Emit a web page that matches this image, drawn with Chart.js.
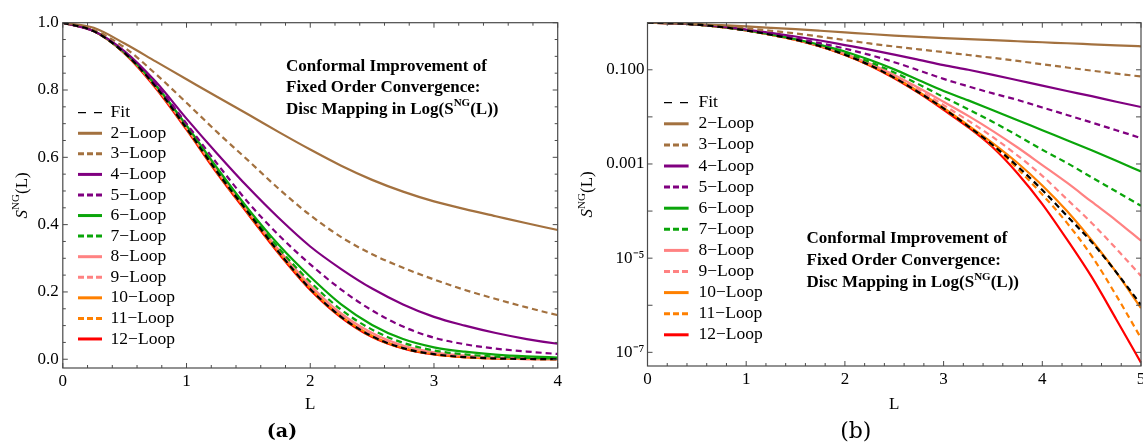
<!DOCTYPE html>
<html>
<head>
<meta charset="utf-8">
<script src="https://cdn.jsdelivr.net/npm/chart.js@4.4.1/dist/chart.umd.min.js"></script>
<style>
  html, body { margin: 0; padding: 0; background: #fff; width: 1143px; height: 448px; overflow: hidden; }
  canvas { position: absolute; top: 0; }
  #chartA { left: 0; }
  #chartB { left: 570px; }
</style>
</head>
<body>
<canvas id="chartA" width="570" height="448"></canvas>
<canvas id="chartB" width="590" height="448"></canvas>
<script>
// S^NG(L), every 0.25 in L
const L_VALUES = [0, 0.25, 0.5, 0.75, 1, 1.25, 1.5, 1.75, 2, 2.25, 2.5, 2.75, 3, 3.25, 3.5, 3.75, 4, 4.25, 4.5, 4.75, 5];

const FIT    = [1, 0.975, 0.91, 0.81, 0.686, 0.555, 0.435, 0.316, 0.209, 0.126, 0.068, 0.033, 0.0151, 0.0063, 0.0025, 8.9e-4, 2.8e-4, 7.9e-5, 2.2e-5, 5.0e-6, 1.02e-6];
const LOOP2  = [1, 0.985, 0.938, 0.885, 0.832, 0.779, 0.727, 0.674, 0.623, 0.575, 0.533, 0.498, 0.469, 0.446, 0.425, 0.404, 0.384, 0.366, 0.348, 0.331, 0.315];
const LOOP3  = [1, 0.978, 0.926, 0.848, 0.762, 0.674, 0.59, 0.505, 0.428, 0.363, 0.312, 0.272, 0.237, 0.206, 0.179, 0.154, 0.131, 0.112, 0.096, 0.083, 0.072];
const LOOP4  = [1, 0.975, 0.915, 0.825, 0.715, 0.61, 0.51, 0.418, 0.335, 0.268, 0.21, 0.163, 0.126, 0.1, 0.078, 0.06, 0.046, 0.0355, 0.0275, 0.021, 0.0162];
const LOOP5  = [1, 0.975, 0.912, 0.818, 0.70, 0.58, 0.465, 0.367, 0.282, 0.207, 0.145, 0.097, 0.064, 0.0445, 0.0315, 0.0229, 0.0158, 0.011, 0.0076, 0.0052, 0.00355];
const LOOP6  = [1, 0.975, 0.911, 0.815, 0.695, 0.567, 0.446, 0.338, 0.245, 0.163, 0.102, 0.06, 0.0355, 0.0224, 0.0138, 0.0085, 0.0052, 0.0032, 0.00195, 0.00117, 6.9e-4];
const LOOP7  = [1, 0.975, 0.91, 0.813, 0.692, 0.563, 0.443, 0.328, 0.23, 0.147, 0.088, 0.049, 0.0263, 0.0145, 0.0078, 0.004, 0.002, 0.00105, 5.2e-4, 2.6e-4, 1.29e-4];
const LOOP8  = [1, 0.975, 0.91, 0.812, 0.69, 0.56, 0.44, 0.323, 0.22, 0.136, 0.078, 0.041, 0.0209, 0.0105, 0.005, 0.00224, 9.5e-4, 4.0e-4, 1.58e-4, 6.3e-5, 2.34e-5];
const LOOP9  = [1, 0.975, 0.91, 0.81, 0.688, 0.558, 0.438, 0.32, 0.215, 0.131, 0.073, 0.037, 0.0178, 0.0083, 0.0037, 0.00151, 5.6e-4, 1.78e-4, 5.6e-5, 1.58e-5, 4.2e-6];
const LOOP10 = [1, 0.975, 0.91, 0.81, 0.687, 0.556, 0.436, 0.318, 0.212, 0.128, 0.07, 0.034, 0.0155, 0.0066, 0.00275, 0.00105, 3.5e-4, 1.0e-4, 2.4e-5, 5.0e-6, 8.7e-7];
const LOOP11 = [1, 0.975, 0.909, 0.808, 0.684, 0.553, 0.432, 0.314, 0.208, 0.125, 0.067, 0.0325, 0.0148, 0.0062, 0.0024, 7.9e-4, 2.24e-4, 5.6e-5, 1.12e-5, 1.6e-6, 2.0e-7];
const LOOP12 = [1, 0.975, 0.908, 0.806, 0.682, 0.551, 0.43, 0.312, 0.206, 0.124, 0.066, 0.032, 0.0141, 0.006, 0.00224, 6.3e-4, 1.41e-4, 2.5e-5, 4.0e-6, 5.0e-7, 6.0e-8];

const SERIES_NAMES = ['Fit', '2\u2212Loop', '3\u2212Loop', '4\u2212Loop', '5\u2212Loop', '6\u2212Loop', '7\u2212Loop',
                      '8\u2212Loop', '9\u2212Loop', '10\u2212Loop', '11\u2212Loop', '12\u2212Loop'];
const SERIES_VALUES = [FIT, LOOP2, LOOP3, LOOP4, LOOP5, LOOP6, LOOP7, LOOP8, LOOP9, LOOP10, LOOP11, LOOP12];

// tick labels
const Y_TICKS_A = [0, 0.2, 0.4, 0.6, 0.8, 1.0];
const Y_LABELS_A = ['0.0', '0.2', '0.4', '0.6', '0.8', '1.0'];
const Y_TICKS_B = [0.1, 0.001, 1e-5, 1e-7];
const Y_LABELS_B = ['0.100', '0.001', '10\u207B\u2075', '10\u207B\u2077'];
const NOTE_LINES = ['Conformal Improvement of', 'Fixed Order Convergence:', 'Disc Mapping in Log(S'];

const BROWN = '#a3713f', PURPLE = '#800080', GREEN = '#0aa50a', PINK = '#ff8282', ORANGE = '#ff8000', RED = '#ff0000';
const COLORS = ['#000000', BROWN, BROWN, PURPLE, PURPLE, GREEN, GREEN, PINK, PINK, ORANGE, ORANGE, RED];
const DASHED = [true, false, true, false, true, false, true, false, true, false, true, false];

const SERIF = "'Liberation Serif', 'Times New Roman', serif";

function makeDatasets(maxL) {
    return SERIES_NAMES.map((name, i) => ({
        label: name,
        data: L_VALUES.map((l, j) => ({x: l, y: SERIES_VALUES[i][j]})).filter(p => p.x <= maxL + 0.3),
        borderColor: COLORS[i],
        borderWidth: 2.2,
        borderDash: DASHED[i] ? [6, 4] : [],
        pointRadius: 0,
        fill: false,
        cubicInterpolationMode: 'monotone',
    }));
}

function drawParts(ctx, parts, x, y) {
    let cx = x;
    parts.forEach(p => {
        ctx.font = p.font;
        ctx.fillText(p.t, cx, y + (p.dy || 0));
        cx += ctx.measureText(p.t).width;
    });
    return cx - x;
}
function partsWidth(ctx, parts) {
    let w = 0;
    parts.forEach(p => { ctx.font = p.font; w += ctx.measureText(p.t).width; });
    return w;
}

const decor = {
    id: 'decor',
    afterDatasetsDraw(chart) {
        const ctx = chart.ctx, a = chart.chartArea, xs = chart.scales.x, ys = chart.scales.y;
        ctx.save();
        ctx.setLineDash([]);
        ctx.strokeStyle = '#4a4a4a';
        ctx.lineWidth = 1.2;
        ctx.strokeRect(a.left, a.top, a.right - a.left, a.bottom - a.top);
        ctx.beginPath();
        xs.ticks.forEach(t => {
            const p = xs.getPixelForValue(t.value), n = t.major ? 5 : 3;
            ctx.moveTo(p, a.bottom); ctx.lineTo(p, a.bottom - n);
            ctx.moveTo(p, a.top); ctx.lineTo(p, a.top + n);
        });
        ys.ticks.forEach(t => {
            const p = ys.getPixelForValue(t.value), n = t.major ? 5 : 3;
            if (p < a.top - 0.5 || p > a.bottom + 0.5) return;
            ctx.moveTo(a.left, p); ctx.lineTo(a.left + n, p);
            ctx.moveTo(a.right, p); ctx.lineTo(a.right - n, p);
        });
        ctx.lineWidth = 1;
        ctx.stroke();
        ctx.restore();
    },
    afterDraw(chart, args, o) {
        const ctx = chart.ctx, a = chart.chartArea;
        ctx.save();
        ctx.fillStyle = '#000';
        ctx.textBaseline = 'middle';

        // legend
        const lg = o.legend;
        chart.data.datasets.forEach((ds, i) => {
            const y = lg.y0 + i * lg.dy;
            ctx.strokeStyle = ds.borderColor;
            ctx.lineWidth = i === 0 ? 1.3 : 3;
            ctx.setLineDash(i === 0 ? [8, 8] : (DASHED[i] ? [6, 3] : []));
            ctx.beginPath();
            ctx.moveTo(lg.x0, y); ctx.lineTo(lg.x1, y);
            ctx.stroke();
            ctx.setLineDash([]);
            ctx.font = '17.5px ' + SERIF;
            ctx.textAlign = 'left';
            ctx.fillText(ds.label, lg.tx, y);
        });

        // note
        const nt = o.note;
        const bold = 'bold 17px ' + SERIF;
        NOTE_LINES.forEach((line, i) => {
            const y = nt.y0 + i * nt.dy;
            if (i < 2) {
                ctx.font = bold;
                ctx.fillText(line, nt.x, y);
            } else {
                drawParts(ctx, [
                    {t: line, font: bold},
                    {t: 'NG', font: 'bold 11px ' + SERIF, dy: -6},
                    {t: '(L))', font: bold},
                ], nt.x, y);
            }
        });

        // y title, rotated
        const yt = [
            {t: 'S', font: 'italic 17px ' + SERIF},
            {t: 'NG', font: '11px ' + SERIF, dy: -6},
            {t: '(L)', font: '17px ' + SERIF},
        ];
        ctx.save();
        ctx.translate(o.yTitleX, (a.top + a.bottom) / 2);
        ctx.rotate(-Math.PI / 2);
        drawParts(ctx, yt, -partsWidth(ctx, yt) / 2, 0);
        ctx.restore();

        // x title
        ctx.textAlign = 'center';
        ctx.font = '17px ' + SERIF;
        ctx.fillText('L', (a.left + a.right) / 2, 405);

        // panel label
        ctx.font = o.panelFont;
        ctx.fillText(o.panel, o.panelX, 432);
        ctx.restore();
    }
};

function xTicks(maxL) {
    return function (scale) {
        const t = [];
        for (let k = 0; k <= maxL * 5; k++) t.push({value: k / 5, major: k % 5 === 0});
        scale.ticks = t;
    };
}
function xLabel(v) {
    const r = Math.round(v * 1000) / 1000;
    return Number.isInteger(r) ? String(r) : '';
}

const tickFont = {family: SERIF, size: 17};

// (a) linear panel
new Chart(document.getElementById('chartA'), {
    type: 'line',
    data: {datasets: makeDatasets(4)},
    options: {
        responsive: false,
        devicePixelRatio: 1,
        animation: false,
        events: [],
        layout: {padding: {left: 0, top: 22.7, right: 12.3, bottom: 0}},
        scales: {
            x: {
                type: 'linear', min: 0, max: 4,
                afterBuildTicks: xTicks(4),
                afterFit: s => { s.height = 80; },
                ticks: {callback: xLabel, autoSkip: false, maxRotation: 0, padding: 3, color: '#000', font: tickFont},
                grid: {display: false, drawTicks: false},
                border: {display: false},
            },
            y: {
                type: 'linear', min: -0.026, max: 1.0,
                afterBuildTicks: s => {
                    const t = [];
                    for (let k = 0; k <= 20; k++) t.push({value: k / 20, major: k % 4 === 0});
                    s.ticks = t;
                },
                afterFit: s => { s.width = 62.8; },
                ticks: {
                    callback: v => {
                        const i = Y_TICKS_A.findIndex(w => Math.abs(w - v) < 1e-6);
                        return i >= 0 ? Y_LABELS_A[i] : '';
                    },
                    autoSkip: false, padding: 4, color: '#000', font: tickFont,
                },
                grid: {display: false, drawTicks: false},
                border: {display: false},
            }
        },
        plugins: {
            legend: {display: false},
            tooltip: {enabled: false},
            decor: {
                legend: {x0: 78, x1: 102, tx: 110.6, y0: 112.7, dy: 20.57},
                note: {x: 286, y0: 66.7, dy: 21.3},
                yTitleX: 22.5,
                panel: '(a)', panelX: 282, panelFont: "bold 19px 'DejaVu Serif', serif",
            }
        }
    },
    plugins: [decor]
});

// (b) logarithmic panel
new Chart(document.getElementById('chartB'), {
    type: 'line',
    data: {datasets: makeDatasets(5)},
    options: {
        responsive: false,
        devicePixelRatio: 1,
        animation: false,
        events: [],
        layout: {padding: {left: 0, top: 22.7, right: 19, bottom: 0}},
        scales: {
            x: {
                type: 'linear', min: 0, max: 5,
                afterBuildTicks: xTicks(5),
                afterFit: s => { s.height = 82; },
                ticks: {callback: xLabel, autoSkip: false, maxRotation: 0, padding: 3, color: '#000', font: tickFont},
                grid: {display: false, drawTicks: false},
                border: {display: false},
            },
            y: {
                type: 'logarithmic', min: Math.pow(10, -7.29), max: 1,
                afterBuildTicks: s => {
                    const t = [];
                    for (let e = -7; e <= 0; e++) t.push({value: Math.pow(10, e), major: true});
                    s.ticks = t;
                },
                afterFit: s => { s.width = 77.5; },
                ticks: {
                    callback: v => {
                        const e = Math.round(Math.log10(v));
                        const i = Y_TICKS_B.findIndex(w => Math.round(Math.log10(w)) === e);
                        return i >= 0 ? Y_LABELS_B[i] : '';
                    },
                    autoSkip: false, padding: 3, color: '#000', font: tickFont,
                },
                grid: {display: false, drawTicks: false},
                border: {display: false},
            }
        },
        plugins: {
            legend: {display: false},
            tooltip: {enabled: false},
            decor: {
                legend: {x0: 94, x1: 118.6, tx: 128.5, y0: 102.7, dy: 21.1},
                note: {x: 236.5, y0: 238.3, dy: 22.2},
                yTitleX: 18,
                panel: '(b)', panelX: 285.8, panelFont: "22px 'DejaVu Serif', serif",
            }
        }
    },
    plugins: [decor]
});
</script>
</body>
</html>
